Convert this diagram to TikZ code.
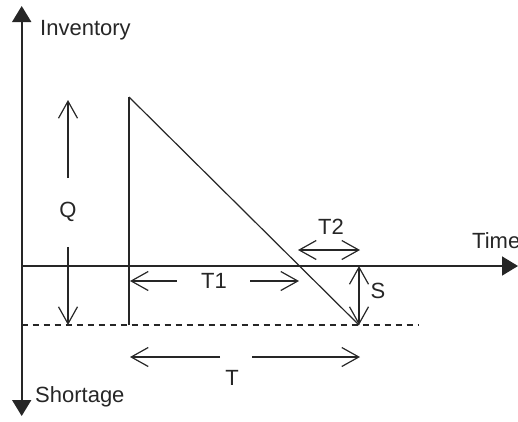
\documentclass[tikz,border=0pt]{standalone}
\usepackage{fontspec}
\setmainfont{Liberation Sans}
\usetikzlibrary{arrows.meta}
\definecolor{ink}{HTML}{262626}
\begin{document}
\begin{tikzpicture}[x=1pt,y=-1pt,
    axis/.style={draw=ink,line width=1.7pt},
    axishead/.style={-{Triangle[width=19pt,length=16pt]}},
    dim/.style={draw=ink,line width=1.4pt,-{Straight Barb[width=19pt,length=17pt,line width=1.2pt]}},
    dimboth/.style={draw=ink,line width=1.4pt,{Straight Barb[width=19pt,length=17pt,line width=1.2pt]}-{Straight Barb[width=19pt,length=17pt,line width=1.2pt]}},
    curve/.style={draw=ink,line width=1.2pt},
    riser/.style={draw=ink,line width=1.7pt},
    level/.style={draw=ink,line width=1.5pt,dash pattern=on 6pt off 5pt},
    lbl/.style={text=ink,font=\fontsize{22}{25}\selectfont,inner sep=0pt}]
  \useasboundingbox (0,0) rectangle (518,421);

  % axes
  \coordinate (vtop) at (21.7,6);
  \coordinate (vbot) at (21.7,416);
  \coordinate (orig) at (21.7,266);
  \coordinate (tend) at (518,266);
  \draw[axis,{Triangle[width=19pt,length=16pt]}-{Triangle[width=19pt,length=16pt]}] (vbot) -- (vtop);
  \draw[axis,axishead] (orig) -- (tend);

  % labels of the axes
  \node[lbl,anchor=base west] (inv) at (40,35) {Inventory};
  \node[lbl,anchor=base west] (short) at (35,402) {Shortage};
  \node[lbl,anchor=base west] (time) at (472,248) {Time};

  % stock level over one cycle
  \coordinate (peak) at (129,97);
  \coordinate (foot) at (129,325);
  \coordinate (low) at (359,325);
  \draw[riser] (foot) -- (peak);
  \draw[curve] (peak) -- (low);

  % maximum shortage level
  \coordinate (dl) at (21.7,325);
  \coordinate (dr) at (418,325);
  \draw[level] (dl) -- (dr);

  % Q
  \coordinate (qtop) at (68,100);
  \coordinate (qbot) at (68,325);
  \node[lbl] (Q) at (68,212) {Q};
  \draw[dim,shorten <=24pt] (Q) -- (qtop);
  \draw[dim,shorten <=25pt] (Q) -- (qbot);

  % T1
  \coordinate (t1l) at (130,281);
  \coordinate (t1r) at (299,281);
  \node[lbl] (T1) at (214,281) {T1};
  \draw[dim,shorten <=24pt] (T1) -- (t1l);
  \draw[dim,shorten <=23pt] (T1) -- (t1r);

  % T2
  \coordinate (t2l) at (298,250);
  \coordinate (t2r) at (360,250);
  \draw[dimboth] (t2l) -- (t2r);
  \node[lbl] (T2) at (331,227) {T2};

  % S
  \coordinate (stop) at (359,266);
  \draw[dimboth] (stop) -- (low);
  \node[lbl] (S) at (378,291) {S};

  % T
  \coordinate (tl) at (130,357);
  \coordinate (tr) at (360,357);
  \coordinate (tmid) at (236,357);
  \node[lbl] (T) at (232,378) {T};
  \draw[dim,shorten <=16pt] (tmid) -- (tl);
  \draw[dim,shorten <=16pt] (tmid) -- (tr);
\end{tikzpicture}
\end{document}
